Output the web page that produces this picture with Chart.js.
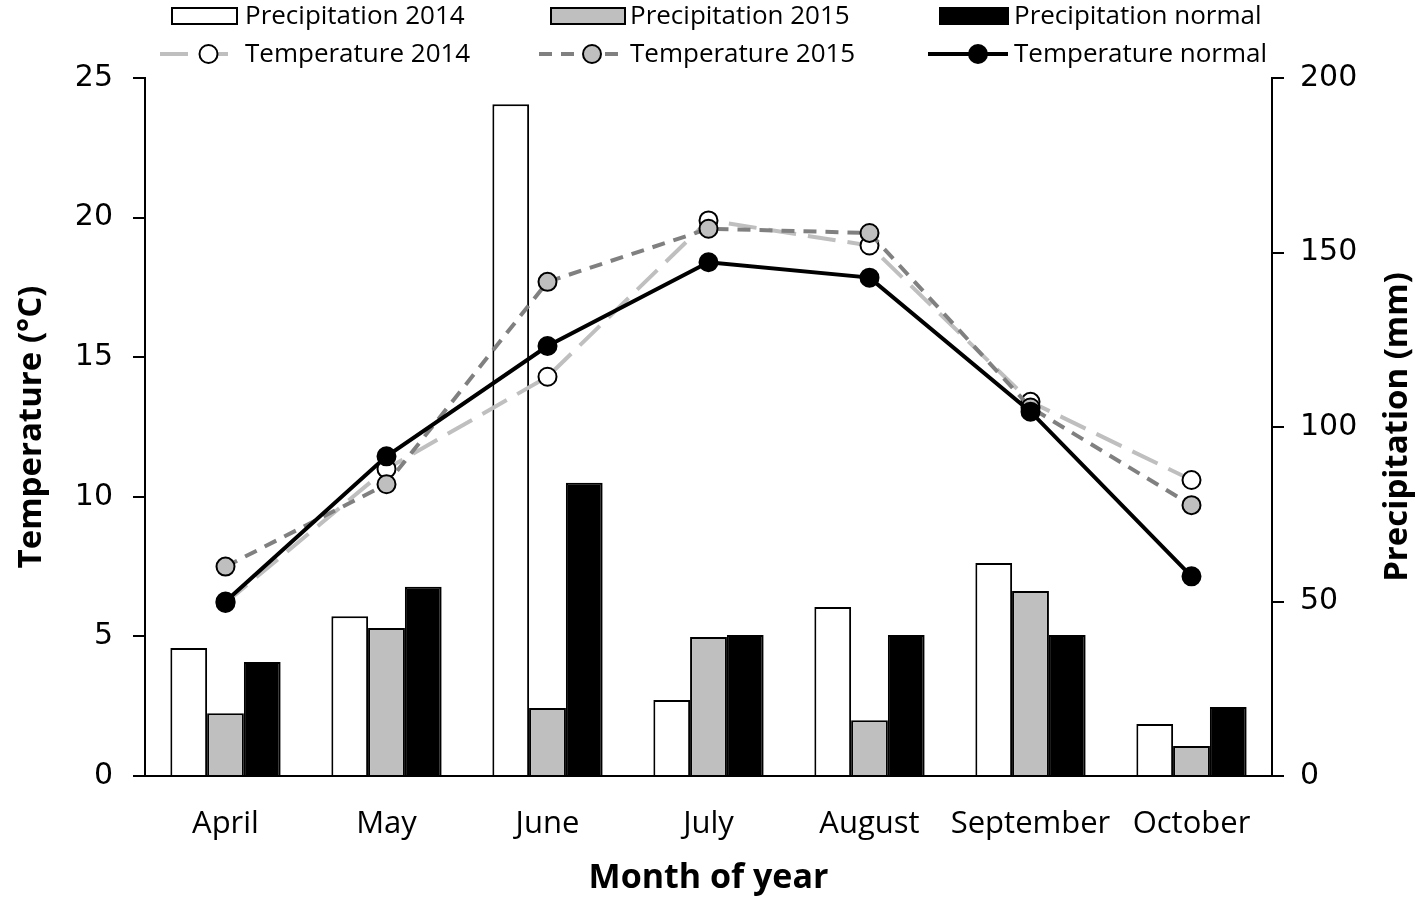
<!DOCTYPE html>
<html>
<head>
<meta charset="utf-8">
<script src="https://cdn.jsdelivr.net/npm/chart.js@4.4.1/dist/chart.umd.min.js"></script>
<style>
  html, body { margin: 0; padding: 0; background: #fff; }
  #wrap { width: 1421px; height: 899px; }
</style>
</head>
<body>
<div id="wrap"><canvas id="climChart" width="1421" height="899"></canvas></div>
<script>
// data
const months = ['April', 'May', 'June', 'July', 'August', 'September', 'October'];
const precip2014 = [36.7, 45.8, 192.5, 21.8, 48.4, 61.0, 14.9];
const precip2015 = [18.0, 42.4, 19.5, 39.8, 16.0, 53.0, 8.6];
const precipNormal = [32.7, 54.2, 84.0, 40.4, 40.4, 40.4, 19.8];
const temp2014 = [6.2, 11.0, 14.3, 19.9, 19.0, 13.4, 10.6];
const temp2015 = [7.5, 10.45, 17.7, 19.6, 19.45, 13.2, 9.7];
const tempNormal = [6.25, 11.45, 15.4, 18.4, 17.85, 13.05, 7.15];
const tempTicks = [0, 5, 10, 15, 20, 25];
const precipTicks = [0, 50, 100, 150, 200];

const tickFont = '"DejaVu Sans", Verdana, sans-serif';
const textFont = '"Open Sans", sans-serif';

// chart area edges in the picture
const AREA = { left: 145, right: 1272, top: 78, bottom: 776 };

// legend + axis titles drawn by hand
const decorPlugin = {
    id: 'decor',
    afterDraw(chart) {
        const ctx = chart.ctx;
        const a = chart.chartArea;
        ctx.save();
        ctx.fillStyle = '#000';

        // axis titles
        ctx.font = 'bold 34px ' + textFont;
        ctx.textAlign = 'center';
        ctx.textBaseline = 'middle';
        ctx.fillText('Month of year', (a.left + a.right) / 2, 878);

        ctx.font = 'bold 33px ' + textFont;
        ctx.save();
        ctx.translate(32, (a.top + a.bottom) / 2);
        ctx.rotate(-Math.PI / 2);
        ctx.fillText('Temperature (\u00B0C)', 0, 0);
        ctx.restore();

        ctx.save();
        ctx.translate(1398, (a.top + a.bottom) / 2);
        ctx.rotate(-Math.PI / 2);
        ctx.fillText('Precipitation (mm)', 0, 0);
        ctx.restore();

        // legend: 2 rows x 3 columns
        const cols = [
            { sx: 172, ex: 237, tx: 245 },
            { sx: 551, ex: 625, tx: 630 },
            { sx: 940, ex: 1008, tx: 1014 }
        ];
        const rowY = [16, 54];
        ctx.font = '26px ' + textFont;
        ctx.textAlign = 'left';
        ctx.textBaseline = 'middle';
        chart.data.datasets.forEach(function(ds, i) {
            const c = cols[i % 3];
            const y = rowY[ds.type === 'line' ? 1 : 0];
            if (ds.type === 'bar') {
                ctx.fillStyle = ds.backgroundColor;
                ctx.fillRect(c.sx, y - 8, c.ex - c.sx, 16);
                ctx.lineWidth = 2;
                ctx.strokeStyle = ds.borderColor;
                ctx.strokeRect(c.sx, y - 8, c.ex - c.sx, 16);
            } else {
                const lx0 = c.sx - 12;
                const lx1 = c.ex;
                ctx.strokeStyle = ds.borderColor;
                ctx.lineWidth = ds.borderWidth;
                ctx.setLineDash(ds.borderDash || []);
                ctx.beginPath();
                ctx.moveTo(lx0, y);
                ctx.lineTo(lx1, y);
                ctx.stroke();
                ctx.setLineDash([]);
                const cx = (lx0 + lx1) / 2 + 10;
                ctx.beginPath();
                ctx.arc(cx, y, 9, 0, Math.PI * 2);
                ctx.fillStyle = ds.pointBackgroundColor;
                ctx.fill();
                ctx.lineWidth = 2;
                ctx.strokeStyle = '#000';
                ctx.stroke();
            }
            ctx.fillStyle = '#000';
            ctx.fillText(ds.label, c.tx, y + 1);
        });
        ctx.restore();
    }
};

function makeLine(label, data, color, dash, fill, order) {
    return {
        type: 'line',
        label: label,
        data: data,
        yAxisID: 'yT',
        borderColor: color,
        borderWidth: 4,
        borderDash: dash,
        pointRadius: 9,
        pointHoverRadius: 9,
        pointBackgroundColor: fill,
        pointBorderColor: '#000',
        pointBorderWidth: 2,
        tension: 0,
        order: order
    };
}

function makeBar(label, data, fill) {
    return {
        type: 'bar',
        label: label,
        data: data,
        yAxisID: 'yP',
        backgroundColor: fill,
        borderColor: '#000',
        borderWidth: 2,
        borderSkipped: 'bottom',
        categoryPercentage: 0.685,
        barPercentage: 1.0,
        order: 5
    };
}

const ctx = document.getElementById('climChart').getContext('2d');
new Chart(ctx, {
    data: {
        labels: months,
        datasets: [
            makeBar('Precipitation 2014', precip2014, '#ffffff'),
            makeBar('Precipitation 2015', precip2015, '#bfbfbf'),
            makeBar('Precipitation normal', precipNormal, '#000000'),
            makeLine('Temperature 2014', temp2014, '#bfbfbf', [28, 12], '#ffffff', 3),
            makeLine('Temperature 2015', temp2015, '#808080', [13, 9], '#bfbfbf', 2),
            makeLine('Temperature normal', tempNormal, '#000000', [], '#000000', 1)
        ]
    },
    options: {
        responsive: false,
        animation: false,
        layout: { padding: { top: AREA.top, left: 0, right: 0, bottom: 0 } },
        plugins: {
            legend: { display: false },
            tooltip: { enabled: false }
        },
        scales: {
            x: {
                grid: { display: false },
                border: { display: true, color: '#000', width: 2 },
                ticks: {
                    color: '#000',
                    font: { family: textFont, size: 31 },
                    padding: 22,
                    maxRotation: 0,
                    autoSkip: false
                },
                afterFit: function(s) { s.height = 899 - AREA.bottom; }
            },
            yT: {
                position: 'left',
                min: 0,
                max: 25,
                afterBuildTicks: function(s) { s.ticks = tempTicks.map(v => ({ value: v })); },
                grid: { drawOnChartArea: false, tickLength: 12, color: '#000', lineWidth: 2 },
                border: { display: true, color: '#000', width: 2 },
                ticks: {
                    color: '#000',
                    font: { family: tickFont, size: 30 },
                    padding: 20
                },
                afterFit: function(s) { s.width = AREA.left; }
            },
            yP: {
                position: 'right',
                min: 0,
                max: 200,
                afterBuildTicks: function(s) { s.ticks = precipTicks.map(v => ({ value: v })); },
                grid: { drawOnChartArea: false, tickLength: 12, color: '#000', lineWidth: 2 },
                border: { display: true, color: '#000', width: 2 },
                ticks: {
                    color: '#000',
                    font: { family: tickFont, size: 30 },
                    padding: 16
                },
                afterFit: function(s) { s.width = 1421 - AREA.right; }
            }
        }
    },
    plugins: [decorPlugin]
});
</script>
</body>
</html>
